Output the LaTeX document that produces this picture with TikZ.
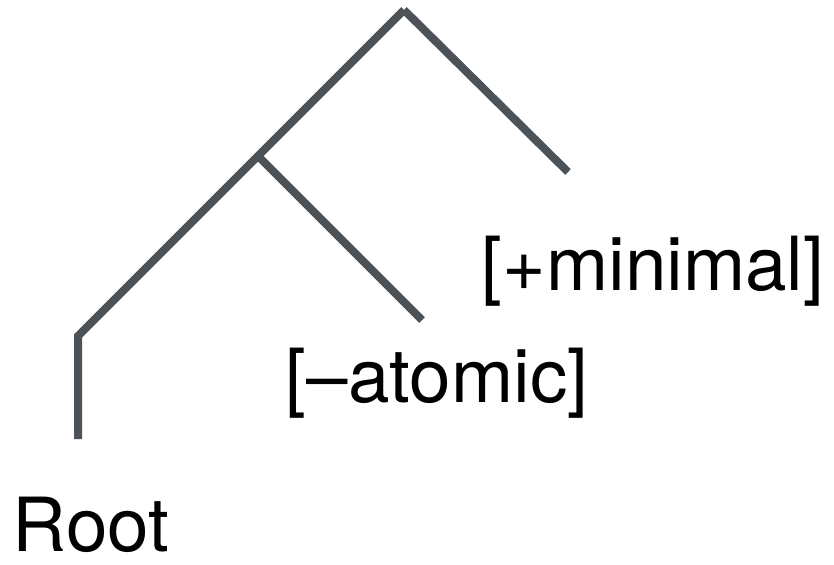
\documentclass[tikz,border=0pt]{standalone}
\usepackage{fontspec}
\setmainfont{TeX Gyre Heros}
\usetikzlibrary{positioning}
\definecolor{branchgray}{RGB}{77,82,89}

\begin{document}
\begin{tikzpicture}
    [x=0.75pt, y=-0.75pt,
    branch/.style={line width=6pt, color=branchgray, line cap=butt, line join=miter},
    feature/.style={anchor=base, inner sep=0pt, font=\fontsize{56}{60}\selectfont}]
        \useasboundingbox (0,0) rectangle (834,564);
        %% tree points
        \coordinate (top) at (404,10);
        \coordinate (mid) at (258,156);
        \coordinate (bend) at (78,336);
        \coordinate (foot) at (78,439);
        \coordinate (minend) at (568,172);
        \coordinate (atomend) at (422,320);

        %% labels
        \node[feature] (minimal) at (653,290) {[+minimal]};
        \node[feature] (atomic) at (437,402) {[--atomic]};
        \node[feature] (root) at (91,551) {Root};

        \draw[branch] (foot) -- (bend) -- (mid) -- (top);
        \draw[branch] (top) -- (minend);
        \draw[branch] (mid) -- (atomend);
    \end{tikzpicture}
\end{document}
